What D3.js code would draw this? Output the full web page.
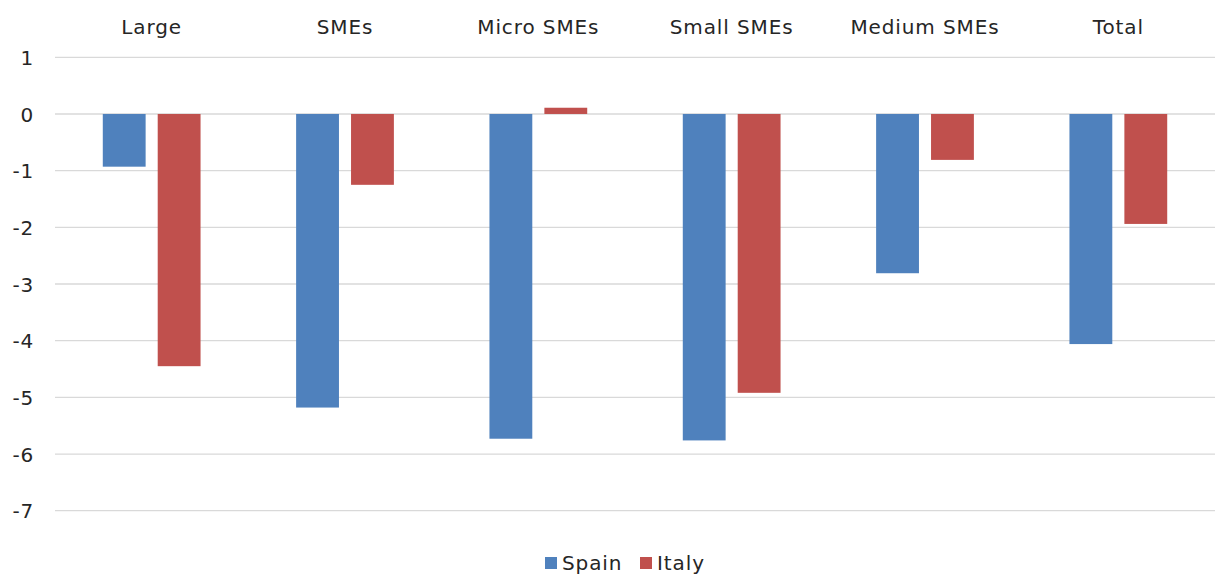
<!DOCTYPE html>
<html>
<head>
<meta charset="utf-8">
<script src="https://cdn.jsdelivr.net/npm/d3@7"></script>
<style>
  html, body { margin: 0; padding: 0; background: #fff; }
  svg { display: block; font-family: Verdana, "DejaVu Sans", sans-serif; }
</style>
</head>
<body>
<svg id="chart" width="1215" height="574"></svg>
<script>
// Firm-size categories and the change per country
const categories = ["Large", "SMEs", "Micro SMEs", "Small SMEs", "Medium SMEs", "Total"];
const spain = [-0.93, -5.18, -5.73, -5.76, -2.81, -4.06];
const italy = [-4.45, -1.25, 0.11, -4.92, -0.81, -1.94];
const seriesNames = ["Spain", "Italy"];
const yTicks = [1, 0, -1, -2, -3, -4, -5, -6, -7];

const colors = { Spain: "#4F81BD", Italy: "#C0504D" };
const series = [
  { name: "Spain", values: spain },
  { name: "Italy", values: italy }
];

const fontFamily = "Verdana, DejaVu Sans, sans-serif";
const textColor = "#262626";

const svg = d3.select("#chart");
const plotLeft = 55, plotRight = 1215, plotTop = 57.3, plotBottom = 510.7;

const x = d3.scaleBand().domain(categories).range([plotLeft, plotRight]).paddingInner(0).paddingOuter(0);
const x1 = d3.scaleBand().domain(seriesNames).range([0, x.bandwidth()]).paddingInner(0.22).paddingOuter(0.87);
const y = d3.scaleLinear().domain([-7, 1]).range([plotBottom, plotTop]);

// Horizontal gridlines
svg.append("g")
  .selectAll("line")
  .data(yTicks)
  .join("line")
  .attr("x1", plotLeft).attr("x2", plotRight)
  .attr("y1", d => y(d)).attr("y2", d => y(d))
  .attr("stroke", "#d9d9d9").attr("stroke-width", 1.3);

// Y axis labels
const yAxis = d3.axisLeft(y).tickValues(yTicks).tickSize(0).tickPadding(0).tickFormat(d3.format("d"));
const ya = svg.append("g").attr("transform", "translate(34,0)").call(yAxis);
ya.select(".domain").remove();
ya.selectAll("text")
  .attr("font-size", 20).attr("fill", textColor)
  .attr("font-family", fontFamily)
  .attr("letter-spacing", 0.8)
  .attr("dy", "0.36em")
  .text(d => d < 0 ? "-" + Math.abs(d) : d);

// Category labels along the top
const xAxis = d3.axisTop(x).tickSize(0).tickPadding(0);
const xa = svg.append("g").attr("transform", "translate(0,34)").call(xAxis);
xa.select(".domain").remove();
xa.selectAll("text")
  .attr("font-size", 20).attr("fill", textColor)
  .attr("font-family", fontFamily)
  .attr("letter-spacing", 0.9)
  .attr("dy", 0);

// Bars
const groups = svg.append("g")
  .selectAll("g")
  .data(series)
  .join("g")
  .attr("fill", d => colors[d.name]);

groups.selectAll("rect")
  .data(d => d.values.map((v, i) => ({ name: d.name, cat: categories[i], v })))
  .join("rect")
  .attr("x", d => x(d.cat) + x1(d.name))
  .attr("width", x1.bandwidth())
  .attr("y", d => y(Math.max(0, d.v)))
  .attr("height", d => Math.abs(y(d.v) - y(0)));

// Legend
const legend = svg.append("g").attr("transform", "translate(545,557)");
const legendItems = [
  { name: "Spain", dx: 0 },
  { name: "Italy", dx: 95 }
];
const li = legend.selectAll("g").data(legendItems).join("g")
  .attr("transform", d => `translate(${d.dx},0)`);
li.append("rect").attr("width", 12).attr("height", 12).attr("fill", d => colors[d.name]);
li.append("text")
  .attr("x", 17).attr("y", 13)
  .attr("font-size", 20).attr("fill", textColor)
  .attr("font-family", fontFamily)
  .attr("letter-spacing", 0.9)
  .text(d => d.name);
</script>
</body>
</html>
